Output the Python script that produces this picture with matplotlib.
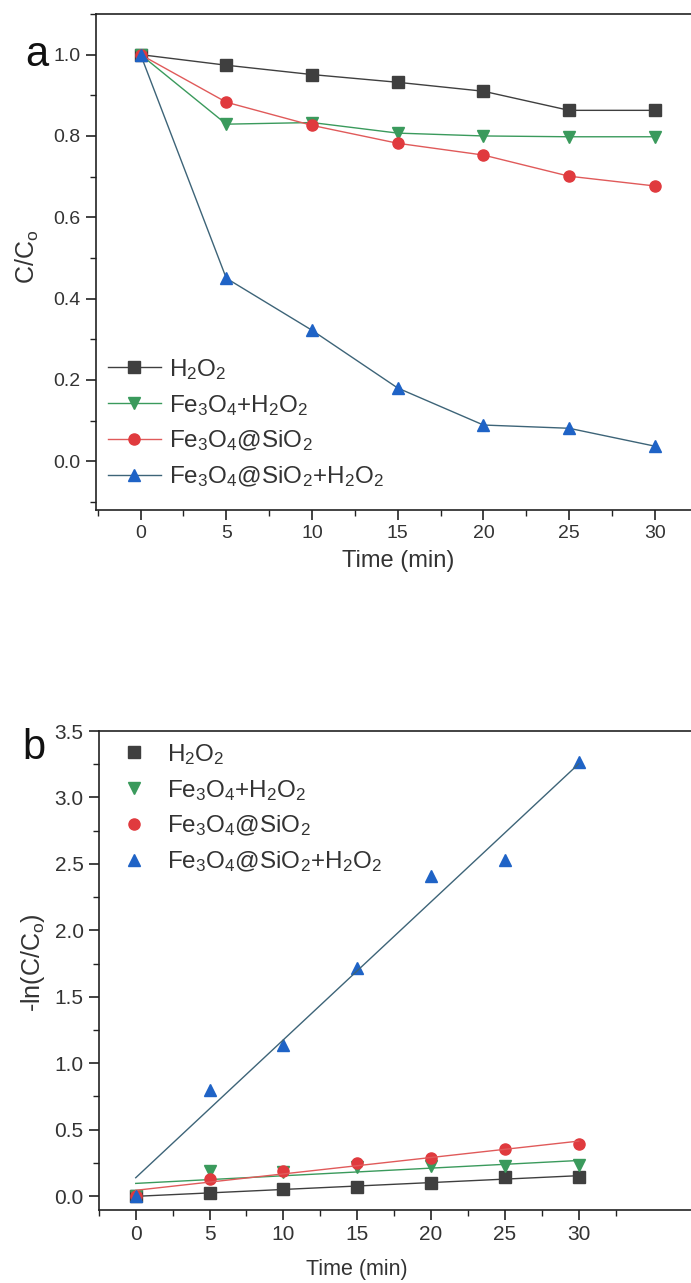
import numpy as np
import matplotlib
matplotlib.use('Agg')
import matplotlib.pyplot as plt
from matplotlib.ticker import MultipleLocator, FixedLocator

plt.rcParams['font.family'] = ['Liberation Sans', 'DejaVu Sans']
plt.rcParams['mathtext.fontset'] = 'custom'
plt.rcParams['mathtext.rm'] = 'Liberation Sans'
plt.rcParams['mathtext.default'] = 'regular'

time = [0, 5, 10, 15, 20, 25, 30]

labels = ['H$_2$O$_2$',
          'Fe$_3$O$_4$+H$_2$O$_2$',
          'Fe$_3$O$_4$@SiO$_2$',
          'Fe$_3$O$_4$@SiO$_2$+H$_2$O$_2$']

# panel a: C/Co
c_h2o2 = [1.0, 0.974, 0.951, 0.932, 0.910, 0.863, 0.863]
c_fe3o4_h2o2 = [1.0, 0.829, 0.833, 0.807, 0.800, 0.798, 0.798]
c_fe3o4_sio2 = [1.0, 0.883, 0.826, 0.782, 0.753, 0.701, 0.677]
c_fe3o4_sio2_h2o2 = [1.0, 0.450, 0.322, 0.180, 0.089, 0.081, 0.037]

# panel b: -ln(C/Co)
k_h2o2 = [0.0, 0.025, 0.05, 0.066, 0.096, 0.146, 0.146]
k_fe3o4_h2o2 = [0.0, 0.19, 0.18, 0.22, 0.225, 0.225, 0.23]
k_fe3o4_sio2 = [0.0, 0.125, 0.19, 0.25, 0.29, 0.354, 0.39]
k_fe3o4_sio2_h2o2 = [0.0, 0.80, 1.14, 1.72, 2.41, 2.53, 3.27]

marker_colors = ['#3f3f3f', '#3a9a5c', '#e03a3e', '#1f63c6']
line_colors = ['#3f3f3f', '#3a9a5c', '#e05a5a', '#3d6478']
markers = ['s', 'v', 'o', '^']
text_col = '#333333'

fig = plt.figure(figsize=(6.91, 12.83), dpi=100)

ax1 = fig.add_axes([0.139, 0.6025, 0.8706, 0.3866])
ax2 = fig.add_axes([0.143, 0.0569, 0.857, 0.3733])


def style_axis(ax, size):
    ax.spines['right'].set_visible(False)
    for s in ['left', 'bottom', 'top']:
        ax.spines[s].set_linewidth(1.2)
        ax.spines[s].set_color('#222222')
    ax.tick_params(which='both', direction='out', top=False, right=False,
                   colors='#222222', labelcolor=text_col, labelsize=size)
    ax.tick_params(which='major', length=7, width=1.2, pad=4)
    ax.tick_params(which='minor', length=4.5, width=1.0)


series_a = [c_h2o2, c_fe3o4_h2o2, c_fe3o4_sio2, c_fe3o4_sio2_h2o2]
for ys, mc, lc, m, lab in zip(series_a, marker_colors, line_colors, markers, labels):
    ax1.plot(time, ys, color=lc, linewidth=1.0, marker=m, markersize=8,
             markerfacecolor=mc, markeredgecolor=mc, label=lab)

style_axis(ax1, 14)
ax1.set_xlim(-2.6, 32.5)
ax1.set_ylim(-0.12, 1.10)
ax1.xaxis.set_major_locator(MultipleLocator(5))
ax1.xaxis.set_minor_locator(MultipleLocator(2.5))
ax1.set_yticks(np.arange(0, 1.01, 0.2))
ax1.set_yticklabels(['%.1f' % v for v in np.arange(0, 1.01, 0.2)])
ax1.yaxis.set_minor_locator(MultipleLocator(0.1))
ax1.set_xlabel('Time (min)', fontsize=17, color=text_col)
ax1.xaxis.set_label_coords(0.502, -0.08)
ax1.set_ylabel('C/C$_o$', fontsize=18, color=text_col)
ax1.yaxis.set_label_coords(-0.092, 0.51)
ax1.legend(loc='lower left', bbox_to_anchor=(-0.012, 0.003), frameon=False,
           fontsize=17.5, handlelength=2.15, handletextpad=0.35,
           labelspacing=0.45, labelcolor=text_col, borderaxespad=0.4)
fig.text(0.036, 0.957, 'a', fontsize=30, color='#111111', va='center')

series_b = [k_h2o2, k_fe3o4_h2o2, k_fe3o4_sio2, k_fe3o4_sio2_h2o2]
fit_x = np.array([0, 30])
for ys, mc, lc, m, lab in zip(series_b, marker_colors, line_colors, markers, labels):
    ax2.plot(time, ys, linestyle='none', marker=m, markersize=8,
             markerfacecolor=mc, markeredgecolor=mc, label=lab)
    slope, icpt = np.polyfit(time, ys, 1)
    ax2.plot(fit_x, slope * fit_x + icpt, color=lc, linewidth=1.0)

style_axis(ax2, 15)
ax2.set_xlim(-2.5, 37.6)
ax2.set_ylim(-0.105, 3.5)
ax2.set_xticks(time)
ax2.xaxis.set_minor_locator(FixedLocator(np.arange(-2.5, 32.6, 2.5)))
ax2.set_yticks(np.arange(0, 3.51, 0.5))
ax2.set_yticklabels(['%.1f' % v for v in np.arange(0, 3.51, 0.5)])
ax2.yaxis.set_minor_locator(MultipleLocator(0.25))
ax2.set_xlabel('Time (min)', fontsize=15.5, color=text_col)
ax2.xaxis.set_label_coords(0.436, -0.102)
ax2.set_ylabel('-ln(C/C$_o$)', fontsize=18, color=text_col)
ax2.yaxis.set_label_coords(-0.088, 0.516)
ax2.legend(loc='upper left', bbox_to_anchor=(0.0, 1.0), frameon=False,
           fontsize=17.5, handlelength=2.0, handletextpad=0.35,
           labelspacing=0.45, labelcolor=text_col, borderaxespad=0.05)
fig.text(0.032, 0.417, 'b', fontsize=30, color='#111111', va='center')

fig.savefig('out.png', dpi=100)
